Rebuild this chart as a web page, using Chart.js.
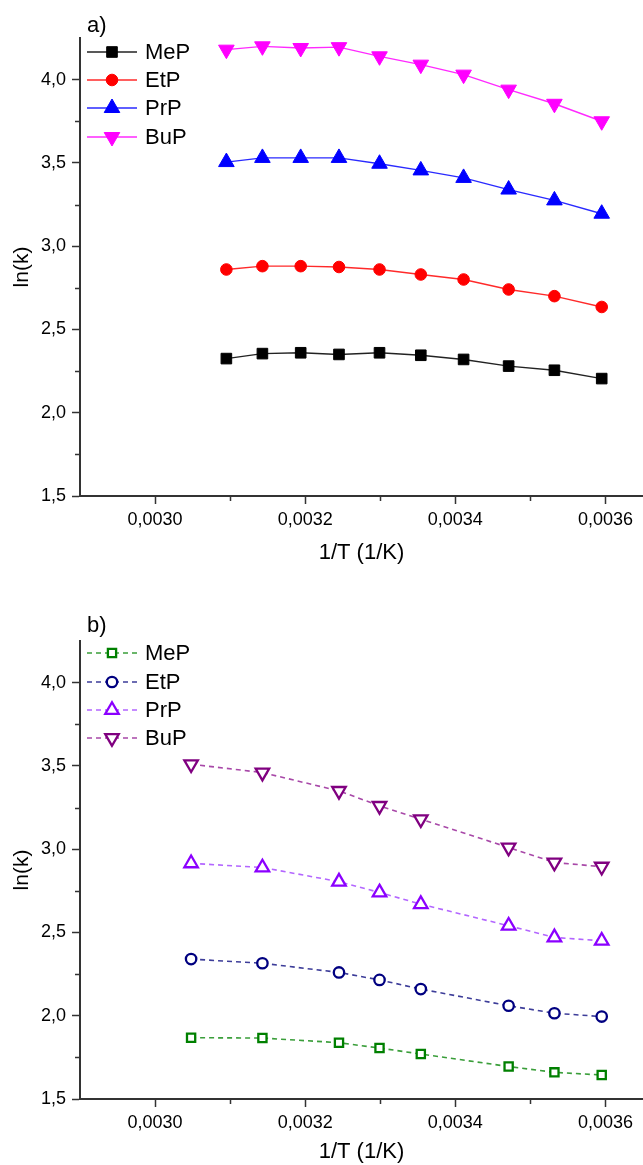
<!DOCTYPE html>
<html lang="en">
<head>
  <meta charset="UTF-8">
  <title>ln(k) vs 1/T</title>
  <style>
    html, body { margin: 0; padding: 0; background: #fff; overflow: hidden; }
    canvas { position: absolute; left: 0; }
    #chartA { top: 0; }
    #chartB { top: 603px; }
  </style>
</head>
<body>
  <canvas id="chartA" width="643" height="602"></canvas>
  <canvas id="chartB" width="643" height="562"></canvas>
  <script src="https://cdn.jsdelivr.net/npm/chart.js"></script>
  <script>
    // 1/T (1/K)
    var xA = [0.003095, 0.003143, 0.003194, 0.003245, 0.003299, 0.003354, 0.003411, 0.003471, 0.003532, 0.003595];
    var xB = [0.003048, 0.003143, 0.003245, 0.003299, 0.003354, 0.003471, 0.003532, 0.003595];

    var names = ['MeP', 'EtP', 'PrP', 'BuP'];

    // panel a) ln(k)
    var mepA = [2.325, 2.355, 2.36, 2.35, 2.36, 2.345, 2.32, 2.28, 2.255, 2.205];
    var etpA = [2.86, 2.88, 2.88, 2.875, 2.86, 2.83, 2.80, 2.74, 2.70, 2.635];
    var prpA = [3.505, 3.53, 3.53, 3.53, 3.495, 3.455, 3.41, 3.34, 3.275, 3.195];
    var bupA = [4.18, 4.20, 4.19, 4.195, 4.14, 4.09, 4.03, 3.94, 3.855, 3.75];

    // panel b) ln(k)
    var mepB = [1.868, 1.866, 1.838, 1.806, 1.77, 1.695, 1.66, 1.644];
    var etpB = [2.34, 2.315, 2.26, 2.215, 2.16, 2.06, 2.015, 1.995];
    var prpB = [2.915, 2.89, 2.805, 2.74, 2.67, 2.54, 2.47, 2.45];
    var bupB = [3.51, 3.46, 3.35, 3.26, 3.18, 3.01, 2.92, 2.895];

    // ticks (every other one gets a label)
    var xTicks = [0.0030, 0.0031, 0.0032, 0.0033, 0.0034, 0.0035, 0.0036];
    var yTicks = [1.5, 1.75, 2.0, 2.25, 2.5, 2.75, 3.0, 3.25, 3.5, 3.75, 4.0];

    var FONT = "'Liberation Sans', Arial, sans-serif";
    var AXIS = '#333';

    function pts(xs, ys) {
      return xs.map(function(x, i) { return {x: x, y: ys[i]}; });
    }

    // marker like Chart.js draws it
    function marker(ctx, ds, x, y) {
      var r = ds.pointRadius, rot = (ds.pointRotation || 0) * Math.PI / 180;
      ctx.save();
      ctx.setLineDash([]);
      ctx.fillStyle = ds.pointBackgroundColor;
      ctx.strokeStyle = ds.pointBorderColor;
      ctx.lineWidth = ds.pointBorderWidth;
      ctx.beginPath();
      if (ds.pointStyle === 'rect') {
        var s = Math.SQRT1_2 * r;
        ctx.rect(x - s, y - s, 2 * s, 2 * s);
      } else if (ds.pointStyle === 'triangle') {
        var a = rot;
        ctx.moveTo(x + Math.sin(a) * r, y - Math.cos(a) * r);
        a += 2 * Math.PI / 3;
        ctx.lineTo(x + Math.sin(a) * r, y - Math.cos(a) * r);
        a += 2 * Math.PI / 3;
        ctx.lineTo(x + Math.sin(a) * r, y - Math.cos(a) * r);
        ctx.closePath();
      } else {
        ctx.arc(x, y, r, 0, 2 * Math.PI);
      }
      ctx.fill();
      ctx.stroke();
      ctx.restore();
    }

    // legend, panel letter and minor ticks
    var decor = {
      id: 'decor',
      afterDraw: function(chart, args, opts) {
        var ctx = chart.ctx;
        var xs = chart.scales.x, ys = chart.scales.y, area = chart.chartArea;

        ctx.save();
        ctx.strokeStyle = AXIS;
        ctx.lineWidth = 1.5;
        ctx.beginPath();
        xTicks.forEach(function(v, i) {
          if (i % 2) {
            var px = Math.round(xs.getPixelForValue(v)) + 0.5;
            ctx.moveTo(px, area.bottom); ctx.lineTo(px, area.bottom + 5);
          }
        });
        yTicks.forEach(function(v, i) {
          if (i % 2) {
            var py = Math.round(ys.getPixelForValue(v)) + 0.5;
            ctx.moveTo(area.left, py); ctx.lineTo(area.left - 5, py);
          }
        });
        ctx.stroke();

        ctx.fillStyle = '#000';
        ctx.textBaseline = 'middle';
        ctx.textAlign = 'left';
        ctx.font = '22px ' + FONT;
        ctx.fillText(opts.label, 87, opts.labelY);

        chart.data.datasets.forEach(function(ds, i) {
          var y = opts.rows[i];
          ctx.save();
          ctx.strokeStyle = ds.borderColor;
          ctx.lineWidth = ds.borderWidth;
          ctx.setLineDash(ds.borderDash || []);
          ctx.beginPath();
          ctx.moveTo(87, y); ctx.lineTo(137, y);
          ctx.stroke();
          ctx.restore();
          marker(ctx, ds, 112, y);
          ctx.fillStyle = '#000';
          ctx.font = '22px ' + FONT;
          ctx.fillText(ds.label, 145, y + 1);
        });
        ctx.restore();
      }
    };

    function makeChart(id, height, datasets, label, labelY, rows, titlePad) {
      var ctx = document.getElementById(id).getContext('2d');
      return new Chart(ctx, {
        type: 'line',
        data: {datasets: datasets},
        options: {
          responsive: false,
          animation: false,
          devicePixelRatio: 1,
          layout: {autoPadding: false, padding: {top: 38, right: 0, bottom: 0, left: 0}},
          plugins: {
            legend: {display: false},
            tooltip: {enabled: false},
            decor: {label: label, labelY: labelY, rows: rows}
          },
          scales: {
            x: {
              type: 'linear',
              min: 0.0029,
              max: 0.00365,
              afterBuildTicks: function(s) {
                s.ticks = xTicks.map(function(v) { return {value: v}; });
              },
              afterFit: function(s) {
                s.height = height - 496;
                s.paddingLeft = 0;
                s.paddingRight = 0;
              },
              border: {display: true, color: AXIS, width: 2},
              grid: {
                display: true, drawOnChartArea: false, drawTicks: true,
                tickLength: 8, tickWidth: 1.5,
                tickColor: function(c) { return c.index % 2 ? 'rgba(0,0,0,0)' : AXIS; }
              },
              ticks: {
                autoSkip: false, maxRotation: 0, padding: 5, color: '#000',
                font: {family: FONT, size: 18},
                callback: function(v, i) { return i % 2 ? '' : v.toFixed(4).replace('.', ','); }
              },
              title: {
                display: true, text: '1/T (1/K)', color: '#000',
                font: {family: FONT, size: 22},
                padding: {top: 0, bottom: titlePad}
              }
            },
            y: {
              min: 1.5,
              max: 4.25,
              afterBuildTicks: function(s) {
                s.ticks = yTicks.map(function(v) { return {value: v}; });
              },
              afterFit: function(s) {
                s.width = 80;
                s.paddingTop = 0;
                s.paddingBottom = 0;
              },
              border: {display: true, color: AXIS, width: 2},
              grid: {
                display: true, drawOnChartArea: false, drawTicks: true,
                tickLength: 8, tickWidth: 1.5,
                tickColor: function(c) { return c.index % 2 ? 'rgba(0,0,0,0)' : AXIS; }
              },
              ticks: {
                autoSkip: false, padding: 6, color: '#000',
                font: {family: FONT, size: 18},
                callback: function(v, i) { return i % 2 ? '' : v.toFixed(1).replace('.', ','); }
              },
              title: {
                display: true, text: 'ln(k)', color: '#000',
                font: {family: FONT, size: 21},
                padding: {top: 10, bottom: 0}
              }
            }
          }
        },
        plugins: [decor]
      });
    }

    function solid(name, xs, ys, color, lineColor, style, r, rot) {
      return {
        label: name, data: pts(xs, ys),
        borderColor: lineColor, borderWidth: 1.4, tension: 0, fill: false,
        pointStyle: style, pointRadius: r, pointRotation: rot,
        pointBackgroundColor: color, pointBorderColor: color, pointBorderWidth: 1
      };
    }

    function hollow(name, xs, ys, color, lineColor, style, r, rot) {
      return {
        label: name, data: pts(xs, ys),
        borderColor: lineColor, borderWidth: 1.6, borderDash: [5, 4], tension: 0, fill: false,
        pointStyle: style, pointRadius: r, pointRotation: rot,
        pointBackgroundColor: '#fff', pointBorderColor: color, pointBorderWidth: 2.3
      };
    }

    makeChart('chartA', 602, [
      solid(names[0], xA, mepA, '#000000', '#222222', 'rect', 7.5, 0),
      solid(names[1], xA, etpA, '#ff0000', '#ff2a2a', 'circle', 5.8, 0),
      solid(names[2], xA, prpA, '#0000ff', '#2a2aff', 'triangle', 9, 0),
      solid(names[3], xA, bupA, '#ff00ff', '#ff2aff', 'triangle', 9, 180)
    ], 'a)', 26, [52, 80, 108, 137], 36);

    makeChart('chartB', 562, [
      hollow(names[0], xB, mepB, '#008000', '#3a9e3a', 'rect', 5.8, 0),
      hollow(names[1], xB, etpB, '#000080', '#3d3d99', 'circle', 5.2, 0),
      hollow(names[2], xB, prpB, '#8b00ff', '#b366ff', 'triangle', 7.8, 0),
      hollow(names[3], xB, bupB, '#800080', '#a848a8', 'triangle', 7.8, 180)
    ], 'b)', 23, [50, 79, 107, 135], 0);
  </script>
</body>
</html>
